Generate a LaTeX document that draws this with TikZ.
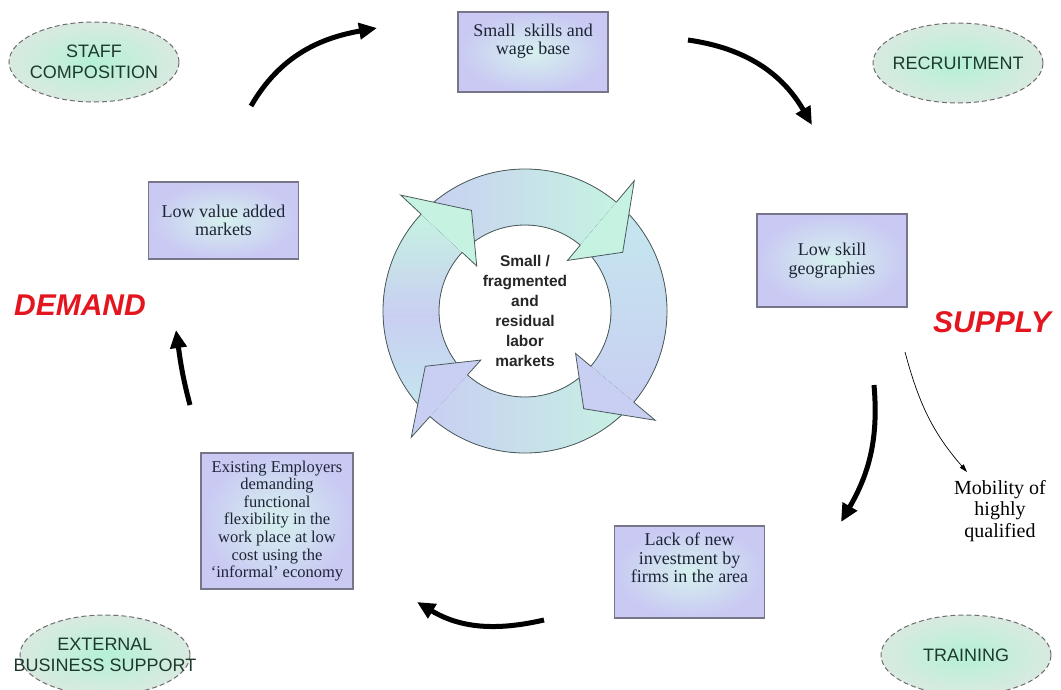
\documentclass[tikz,border=0pt]{standalone}
\usepackage{fontspec}
\setmainfont{Liberation Serif}
\setsansfont{Liberation Sans}
\usetikzlibrary{shapes.geometric,arrows.meta}

\definecolor{boxout}{HTML}{C9C9F3}
\definecolor{boxin}{HTML}{D6F1EE}
\definecolor{boxline}{HTML}{767688}
\definecolor{boxink}{HTML}{1E2436}
\definecolor{ovalout}{HTML}{D9EAE0}
\definecolor{ovalin}{HTML}{B4F1D6}
\definecolor{ovalline}{HTML}{6E6E6E}
\definecolor{ovalink}{HTML}{1E3A2C}
\definecolor{sidered}{HTML}{E3161F}
\definecolor{mint}{HTML}{C6F2E2}
\definecolor{aqua}{HTML}{C4E8EE}
\definecolor{lav}{HTML}{C9CFF2}
\definecolor{ringedge}{HTML}{4A5A5A}

\newcommand{\toptext}[2]{\parbox[c][#1][t]{140pt}{\centering #2}}

\tikzset{
  box/.style={draw=boxline, line width=1.2pt, inner color=boxin, outer color=boxout,
    minimum width=150pt, align=center, text=boxink, font=\fontsize{18}{18.5}\selectfont},
  oval/.style={ellipse, draw=ovalline, dash pattern=on 5pt off 3pt, line width=1pt,
    inner color=ovalin, outer color=ovalout, minimum width=170pt, minimum height=80pt},
  ovaltext/.style={align=center, text=ovalink, font=\sffamily\fontsize{18}{21}\selectfont},
  side/.style={text=sidered, font=\sffamily\bfseries\itshape\fontsize{30}{30}\selectfont},
  cyc/.style={line width=5pt, -{Triangle[length=18pt,width=16pt]}},
  ringline/.style={draw=ringedge, line width=0.8pt}
}

\begin{document}
\begin{tikzpicture}[x=1pt,y=1pt]
\useasboundingbox (0,0) rectangle (1061,-689);

\begin{scope}[shift={(525,-311)}]
\fill[bottom color=aqua, top color=mint, middle color=lav] (228:142pt) arc[start angle=228, end angle=137, radius=142pt] -- (137:86pt) arc[start angle=137, end angle=228, radius=86pt] -- cycle;
\fill[left color=lav, right color=mint] (137:142pt) arc[start angle=137, end angle=50, radius=142pt] -- (50:86pt) arc[start angle=50, end angle=137, radius=86pt] -- cycle;
\fill[top color=aqua, bottom color=lav] (50:142pt) arc[start angle=50, end angle=-40, radius=142pt] -- (-40:86pt) arc[start angle=-40, end angle=50, radius=86pt] -- cycle;
\fill[left color=lav, right color=mint] (-40:142pt) arc[start angle=-40, end angle=-132, radius=142pt] -- (-132:86pt) arc[start angle=-132, end angle=-40, radius=86pt] -- cycle;
\draw[ringline] (0,0) circle[radius=142pt];
\draw[ringline] (0,0) circle[radius=86pt];
\foreach \b/\c in {137/mint, 50/mint, -40/lav, -132/lav} {
  \fill[fill=\c] (\b:170pt) -- ({\b-19}:114pt) -- (\b:66pt) -- cycle;
  \draw[ringline] (\b:142pt) -- (\b:170pt) -- ({\b-19}:114pt) -- (\b:66pt) -- (\b:86pt);
}
\end{scope}
\node[align=center, text=black!85, font=\sffamily\bfseries\fontsize{15.5}{20}\selectfont] (core) at (525,-311) {Small /\\fragmented\\and\\residual\\labor\\markets};

\node[box, minimum height=80pt] (skills) at (533,-52) {\toptext{56pt}{Small\ \ skills and\\wage base}};
\node[box, minimum height=77pt] (valuemkt) at (223.5,-220.5) {Low value added\\markets};
\node[box, minimum height=93pt] (geog) at (832,-260.5) {Low skill\\geographies};
\node[box, minimum width=152pt, minimum height=136pt, font=\fontsize{16.5}{17.6}\selectfont] (employers) at (277,-521) {Existing Employers\\demanding\\functional\\flexibility in the\\work place at low\\cost using the\\`informal' economy};
\node[box, minimum height=92pt] (invest) at (689.5,-572) {\toptext{78pt}{Lack of new\\investment by\\firms in the area}};

\node[oval, label={[ovaltext]center:STAFF\\COMPOSITION}] (staff) at (94,-62) {};
\node[oval, label={[ovaltext]center:RECRUITMENT}] (recruit) at (958,-63) {};
\node[oval, label={[ovaltext]center:TRAINING}] (training) at (966,-655) {};
\node[oval, label={[ovaltext]center:EXTERNAL\\BUSINESS SUPPORT}] (extsupport) at (105,-655) {};

\node[side] (demand) at (80,-305) {DEMAND};
\node[side] (supply) at (992,-322) {SUPPLY};
\node[align=center, font=\fontsize{20}{21.5}\selectfont] (mobility) at (1000,-511) {Mobility of\\highly\\qualified};

\coordinate (c1a) at (251,-106);
\coordinate (c1b) at (377,-28);
\coordinate (c2a) at (688,-40);
\coordinate (c2b) at (812,-125);
\coordinate (c3a) at (874,-385);
\coordinate (c3b) at (841,-522);
\coordinate (c4a) at (544,-620);
\coordinate (c4b) at (417,-602);
\coordinate (c5a) at (190,-405);
\coordinate (c5b) at (176,-330);
\coordinate (m1) at (905,-352);
\coordinate (m2) at (967,-472);

\draw[cyc] (c1a) to[out=60, in=190] (c1b);
\draw[cyc] (c2a) to[out=-8, in=120] (c2b);
\draw[cyc] (c3a) to[out=-85, in=60] (c3b);
\draw[cyc] (c4a) to[out=193, in=-31] (c4b);
\draw[cyc] (c5a) to[out=105, in=-82] (c5b);
\draw[line width=0.7pt, -{Triangle[length=8pt,width=5pt]}] (m1) to[out=-75, in=131] (m2);
\end{tikzpicture}
\end{document}
